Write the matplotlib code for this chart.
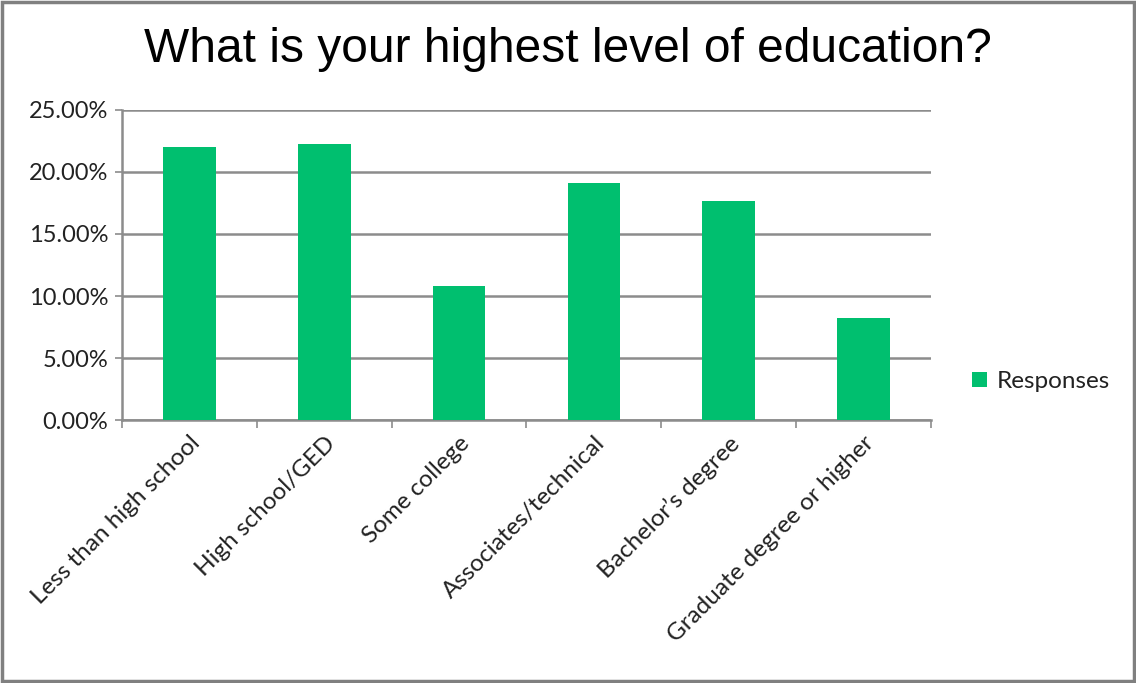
import matplotlib
matplotlib.use("Agg")
import matplotlib.pyplot as plt
from matplotlib.patches import Rectangle
from matplotlib.ticker import FuncFormatter

categories = ["Less than high school", "High school/GED", "Some college",
              "Associates/technical", "Bachelor\u2019s degree", "Graduate degree or higher"]
responses = [22.0, 22.26, 10.8, 19.09, 17.66, 8.25]
yticks = [0, 5, 10, 15, 20, 25]

green = "#00bf6f"
grid_c = "#8c8c8c"

fig = plt.figure(figsize=(11.36, 6.83), dpi=100)
ax = fig.add_axes([0.1074, 0.385, 0.712, 0.454])

x = range(len(categories))
ax.bar(x, responses, width=0.39, color=green, label="Responses", zorder=3)

ax.set_xlim(-0.5, len(categories) - 0.5)
ax.set_ylim(0, 25)
ax.set_yticks(yticks)
ax.yaxis.set_major_formatter(FuncFormatter(lambda v, p: f"{v:.2f}%"))
ax.grid(axis="y", color=grid_c, linewidth=1.8, zorder=0)

# category boundary ticks
ax.set_xticks([i - 0.5 for i in range(len(categories) + 1)])
ax.set_xticklabels([])
ax.set_xticks(list(x), minor=True)
ax.set_xticklabels(categories, minor=True, rotation=45, ha="right",
                   rotation_mode="anchor", fontsize=17.5, family="Lato",
                   color="#222222")
ax.tick_params(axis="x", which="minor", length=0, pad=9)
ax.tick_params(axis="x", which="major", length=6, width=1.2, color=grid_c)
ax.tick_params(axis="y", length=5, width=1.2, color=grid_c, labelsize=17, pad=5)
for lab in ax.get_yticklabels():
    lab.set_family("Lato")
    lab.set_color("#222222")

for s in ["top", "right"]:
    ax.spines[s].set_visible(False)
for s in ["left", "bottom"]:
    ax.spines[s].set_color(grid_c)
    ax.spines[s].set_linewidth(1.8)

fig.text(0.5, 0.928, "What is your highest level of education?", ha="center",
         va="center", fontsize=34.5, family="Liberation Sans")

leg = ax.legend(loc="center left", bbox_to_anchor=(1.024, 0.125), frameon=False,
                prop={"family": "Lato", "size": 17.5}, handlelength=0.6,
                handleheight=0.6, handletextpad=0.4)
for t in leg.get_texts():
    t.set_color("#222222")

fig.patches.append(Rectangle((0.002, 0.003), 0.996, 0.994, transform=fig.transFigure,
                             fill=False, edgecolor="#808080", linewidth=2.5))

fig.savefig("out.png", dpi=100)
